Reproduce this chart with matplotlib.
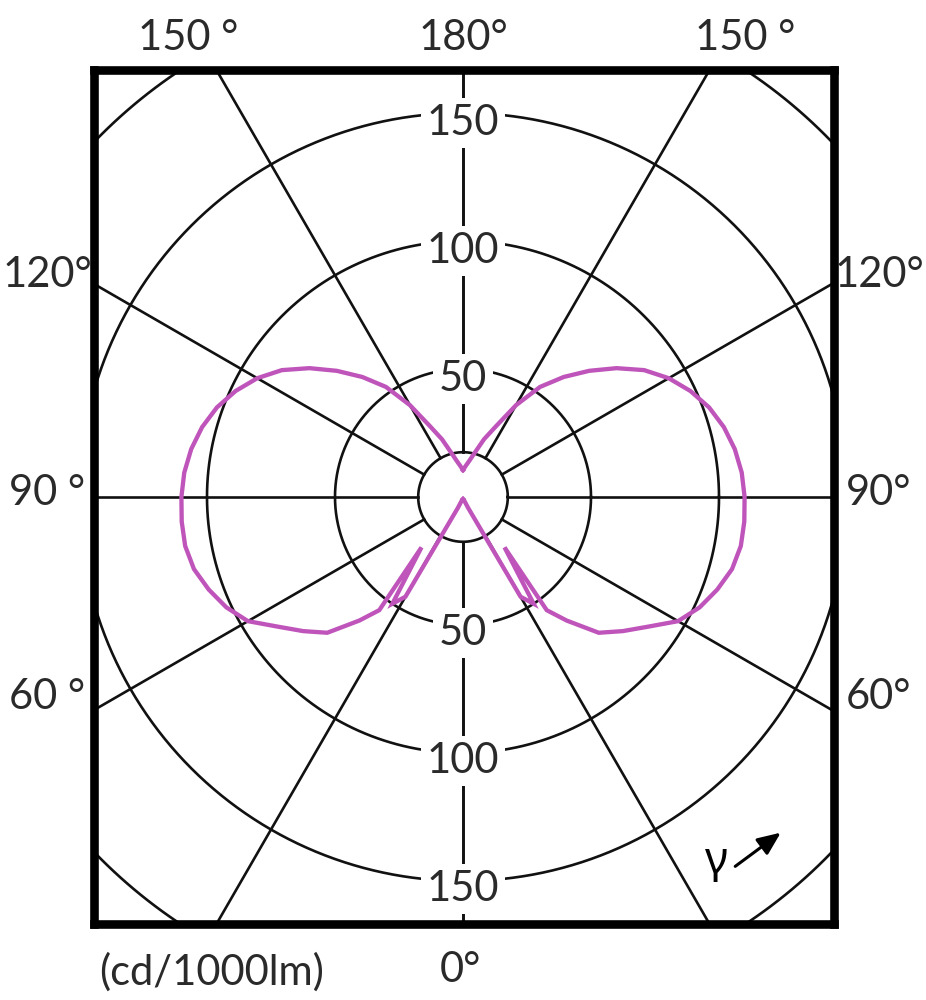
import numpy as np
import matplotlib
matplotlib.use("Agg")
import matplotlib.pyplot as plt

# ---------------- data (cd/1000lm) ----------------
gamma_deg = [0, 5, 10, 15, 20, 25, 30, 33.5, 39.5, 36.5, 40, 45, 50, 55, 60, 65, 70,
             75, 80, 85, 90, 95, 100, 105, 110, 115, 120, 125, 130, 135, 140, 145,
             150, 155, 160, 165, 170, 175, 180]
intensity = [0.8, 0.9, 1.0, 1.2, 1.6, 4.5, 45, 50, 25.5, 55, 63, 75, 81.5, 88.3, 97,
             102, 105.7, 108.8, 110.2, 110.3, 110, 109.3, 107.8, 105.5, 102.3, 98,
             92.8, 86.4, 78.3, 69.7, 61.2, 52.5, 41.4, 30.5, 24, 18, 14.4, 12.2, 10.5]

ring_values = [50, 100, 150]
outer_ring = 200
inner_ring = 17.5
spoke_angles = [0, 30, 60, 90, 120, 150, 180]

top_labels = ["150 °", "180°", "150 °"]
left_labels = ["120°", "90 °", "60 °"]
right_labels = ["120°", "90°", "60°"]
unit_label = "(cd/1000lm)"
zero_label = "0°"

# ---------------- style ----------------
FONT = ["Lato", "DejaVu Sans"]
TXT = "#2a2a2a"
CURVE = "#BF55BA"
FS = 30

fig = plt.figure(figsize=(9.26, 10), dpi=100)
W, H = 926, 1000
cx, cy = 463, 497          # pixel position of the diagram centre
k = 2.56                   # pixels per cd
ax = fig.add_axes([94 / W, 1 - 924 / H, 740 / W, 854 / H])
ax.set_xlim(-(cx - 94) / k, (834 - cx) / k)
ax.set_ylim(-(924 - cy) / k, (cy - 70) / k)
ax.set_aspect("equal")
ax.set_xticks([])
ax.set_yticks([])
for s in ax.spines.values():
    s.set_linewidth(6.2)
    s.set_color("black")
    s.set_zorder(10)

# grid circles
t = np.linspace(0, 2 * np.pi, 721)
for r in ring_values + [outer_ring, inner_ring]:
    ax.plot(r * np.cos(t), r * np.sin(t), color="#111111", lw=1.9, zorder=1)

# spokes
for a in spoke_angles:
    g = np.radians(a)
    for sgn in (1, -1):
        x0, y0 = sgn * inner_ring * np.sin(g), -inner_ring * np.cos(g)
        x1, y1 = sgn * 260 * np.sin(g), -260 * np.cos(g)
        ax.plot([x0, x1], [y0, y1], color="#111111", lw=1.9, zorder=1)

# ring labels (with white boxes breaking the lines)
for r in ring_values:
    for sgn, off in ((1, -4.0), (-1, -3.2)):
        ax.text(0, sgn * r + off, str(r), ha="center", va="center", fontsize=FS,
                family=FONT, color=TXT, zorder=3,
                bbox=dict(boxstyle="square,pad=0.14", fc="white", ec="none"))

# curve (right half and mirrored left half)
g = np.radians(gamma_deg)
I = np.array(intensity)
xr = I * np.sin(g)
yr = -I * np.cos(g)
ax.plot(xr, yr, color=CURVE, lw=3.1, zorder=4, solid_joinstyle="miter")
ax.plot(-xr, yr, color=CURVE, lw=3.1, zorder=4, solid_joinstyle="miter")

# gamma symbol and arrow
fig.text(716 / W, 1 - 862 / H, "γ", ha="center", va="center", fontsize=FS + 2,
         family=["Noto Sans", "DejaVu Sans"], color="black")
ax.annotate("", xy=(783 / W, 1 - 831 / H), xytext=(733 / W, 1 - 868 / H),
            xycoords="figure fraction", textcoords="figure fraction",
            arrowprops=dict(arrowstyle="-|>,head_length=1.4,head_width=0.6",
                            color="black", lw=2.2), zorder=5)

# outer angle labels
for x_px, lab in zip([188, 463, 745], top_labels):
    fig.text(x_px / W, 1 - 38 / H, lab, ha="center", va="center", fontsize=FS,
             family=FONT, color=TXT)
for y_px, lab in zip([275, 493, 697], left_labels):
    fig.text(47 / W, 1 - y_px / H, lab, ha="center", va="center", fontsize=FS,
             family=FONT, color=TXT)
for y_px, lab in zip([275, 493, 697], right_labels):
    fig.text(879 / W, 1 - y_px / H, lab, ha="center", va="center", fontsize=FS,
             family=FONT, color=TXT)
fig.text(212 / W, 1 - 972 / H, unit_label, ha="center", va="center", fontsize=FS,
         family=FONT, color=TXT)
fig.text(460 / W, 1 - 970 / H, zero_label, ha="center", va="center", fontsize=FS,
         family=FONT, color=TXT)

fig.savefig("out.png", dpi=100, facecolor="white")
